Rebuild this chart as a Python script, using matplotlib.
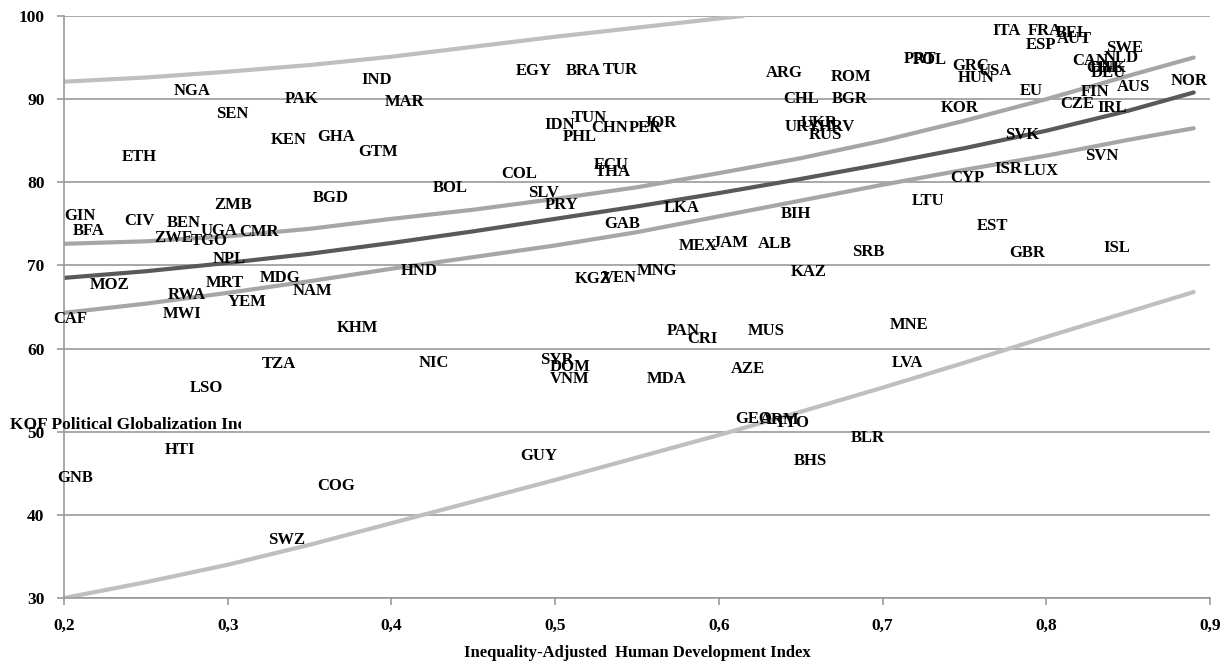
import matplotlib
matplotlib.use("Agg")
import matplotlib.pyplot as plt
from matplotlib.transforms import Bbox

# country codes, inequality-adjusted HDI (x) and KOF political globalization (y)
codes = ["NGA", "SEN", "PAK", "IND", "MAR", "KEN", "GHA", "GTM", "ETH", "BGD",
         "ZMB", "GIN", "BFA", "CIV", "BEN", "UGA", "CMR", "ZWE", "TGO", "NPL",
         "MOZ", "RWA", "MRT", "MDG", "YEM", "NAM", "MWI", "CAF", "KHM", "HND",
         "EGY", "BRA", "TUR", "ARG", "IDN", "TUN", "PHL", "CHN", "PER", "JOR",
         "ECU", "THA", "COL", "BOL", "SLV", "PRY", "GAB", "LKA", "BIH", "MEX",
         "JAM", "ALB", "KGZ", "VEN", "MNG", "KAZ", "CHL", "PAN", "CRI", "MUS",
         "ROM", "BGR", "URY", "UKR", "HRV", "RUS", "ITA", "FRA", "BEL", "AUT",
         "ESP", "SWE", "NLD", "CAN", "DNK", "CHE", "DEU", "PRT", "POL", "GRC",
         "USA", "HUN", "KOR", "EU", "FIN", "AUS", "NOR", "CZE", "IRL", "SVK",
         "SVN", "ISR", "LUX", "CYP", "LTU", "EST", "GBR", "SRB", "ISL", "MNE",
         "TZA", "LSO", "HTI", "GNB", "COG", "SWZ", "NIC", "SYR", "DOM", "VNM",
         "MDA", "AZE", "GEO", "ARM", "TTO", "GUY", "BHS", "BLR", "LVA"]
hdi = [0.278, 0.303, 0.345, 0.391, 0.408, 0.337, 0.366, 0.392, 0.246, 0.363,
       0.303, 0.210, 0.215, 0.246, 0.273, 0.295, 0.319, 0.267, 0.289, 0.301,
       0.228, 0.275, 0.298, 0.332, 0.312, 0.352, 0.272, 0.204, 0.379, 0.417,
       0.487, 0.517, 0.540, 0.640, 0.503, 0.521, 0.515, 0.533, 0.555, 0.564,
       0.534, 0.535, 0.478, 0.436, 0.493, 0.504, 0.541, 0.577, 0.647, 0.587,
       0.607, 0.634, 0.523, 0.539, 0.562, 0.655, 0.650, 0.578, 0.590, 0.629,
       0.681, 0.680, 0.651, 0.661, 0.672, 0.665, 0.776, 0.799, 0.816, 0.817,
       0.797, 0.848, 0.846, 0.827, 0.838, 0.835, 0.838, 0.723, 0.729, 0.754,
       0.769, 0.757, 0.747, 0.791, 0.830, 0.853, 0.887, 0.819, 0.840, 0.785,
       0.834, 0.777, 0.797, 0.752, 0.728, 0.767, 0.788, 0.691, 0.843, 0.716,
       0.331, 0.287, 0.271, 0.207, 0.366, 0.336, 0.426, 0.501, 0.509, 0.509,
       0.568, 0.618, 0.621, 0.637, 0.645, 0.490, 0.656, 0.691, 0.715]
kof = [91.0, 88.2, 90.0, 92.3, 89.7, 85.1, 85.5, 83.6, 83.0, 78.1,
       77.3, 75.9, 74.1, 75.3, 75.1, 74.1, 74.0, 73.3, 72.9, 70.8,
       67.6, 66.4, 67.9, 68.5, 65.6, 66.9, 64.2, 63.6, 62.5, 69.3,
       93.4, 93.4, 93.5, 93.1, 86.9, 87.7, 85.5, 86.5, 86.5, 87.1,
       82.1, 81.2, 81.0, 79.3, 78.7, 77.3, 75.0, 76.9, 76.2, 72.3,
       72.7, 72.6, 68.4, 68.5, 69.3, 69.2, 90.0, 62.1, 61.2, 62.1,
       92.7, 90.0, 86.6, 87.1, 86.6, 85.7, 98.2, 98.2, 98.0, 97.2,
       96.5, 96.1, 95.0, 94.6, 93.8, 93.7, 93.1, 94.8, 94.7, 94.0,
       93.4, 92.6, 88.9, 91.0, 90.9, 91.5, 92.2, 89.4, 88.9, 85.7,
       83.2, 81.6, 81.4, 80.5, 77.7, 74.7, 71.5, 71.6, 72.1, 62.8,
       58.1, 55.3, 47.8, 44.4, 43.5, 37.0, 58.3, 58.6, 57.8, 56.3,
       56.3, 57.5, 51.5, 51.4, 51.0, 47.1, 46.5, 49.2, 58.3]

# fitted trend, confidence band and prediction band
fit_x = [0.2, 0.25, 0.3, 0.35, 0.4, 0.45, 0.5, 0.55, 0.6, 0.65, 0.7, 0.75,
         0.8, 0.85, 0.89]
fit_mid = [68.5, 69.3, 70.3, 71.4, 72.7, 74.1, 75.6, 77.1, 78.7, 80.4, 82.2,
           84.1, 86.2, 88.6, 90.8]
ci_hi = [72.6, 72.9, 73.5, 74.4, 75.6, 76.7, 78.0, 79.4, 81.1, 82.9, 85.0,
         87.4, 90.0, 92.8, 95.0]
ci_lo = [64.3, 65.4, 66.7, 68.1, 69.6, 71.0, 72.4, 74.0, 75.9, 77.8, 79.7,
         81.5, 83.2, 85.1, 86.5]
pred_lo = [30.0, 31.9, 34.0, 36.4, 39.0, 41.6, 44.2, 46.9, 49.6, 52.4, 55.3,
           58.3, 61.4, 64.4, 66.8]
pred_hi_x = [0.2, 0.25, 0.3, 0.35, 0.4, 0.45, 0.5, 0.55, 0.6, 0.615]
pred_hi = [92.1, 92.6, 93.3, 94.1, 95.1, 96.3, 97.5, 98.6, 99.7, 100.0]

plt.rcParams['font.family'] = ['Liberation Serif', 'DejaVu Serif']
plt.rcParams['font.weight'] = 'bold'

fig = plt.figure(figsize=(12.26, 6.66), dpi=100)
ax = fig.add_axes([0.0522, 0.1021, 0.9348, 0.8739])

line_kw = dict(lw=3, solid_capstyle='round', solid_joinstyle='round')
ax.plot(pred_hi_x, pred_hi, color='#bfbfbf', **line_kw)
ax.plot(fit_x, pred_lo, color='#bfbfbf', **line_kw)
ax.plot(fit_x, ci_hi, color='#a6a6a6', **line_kw)
ax.plot(fit_x, ci_lo, color='#a6a6a6', **line_kw)
ax.plot(fit_x, fit_mid, color='#595959', **line_kw)

for c, x, y in zip(codes, hdi, kof):
    ax.text(x, y, c, ha='center', va='center', fontsize=12,
            fontweight='bold', color='black', clip_on=False)

ax.set_xlim(0.2, 0.9)
ax.set_ylim(30, 100)
ax.set_xticks([0.2, 0.3, 0.4, 0.5, 0.6, 0.7, 0.8, 0.9])
ax.set_xticklabels(['0,2', '0,3', '0,4', '0,5', '0,6', '0,7', '0,8', '0,9'])
ax.set_yticks(range(30, 101, 10))
ax.yaxis.grid(True, color='#999999', lw=1.2)
ax.set_axisbelow(True)
for s in ['top', 'right']:
    ax.spines[s].set_visible(False)
for s in ['left', 'bottom']:
    ax.spines[s].set_color('#999999')
    ax.spines[s].set_linewidth(1.2)
ax.tick_params(axis='both', colors='#999999', length=5, width=1.2,
               labelcolor='black', labelsize=12.5)
ax.tick_params(axis='x', pad=9)
ax.tick_params(axis='y', pad=9)

ax.set_xlabel('Inequality-Adjusted  Human Development Index',
              fontsize=12, fontweight='bold', labelpad=8)

# y title drawn horizontally and cut off, as in the source
t = fig.text(10 / 1226, 1 - 425 / 666, 'KOF Political Globalization Index',
             ha='left', va='center', fontsize=12.5, fontweight='bold')
t.set_clip_box(Bbox([[0, 0], [241, 666]]))
t.set_clip_on(True)

fig.savefig('out.png', dpi=100)
